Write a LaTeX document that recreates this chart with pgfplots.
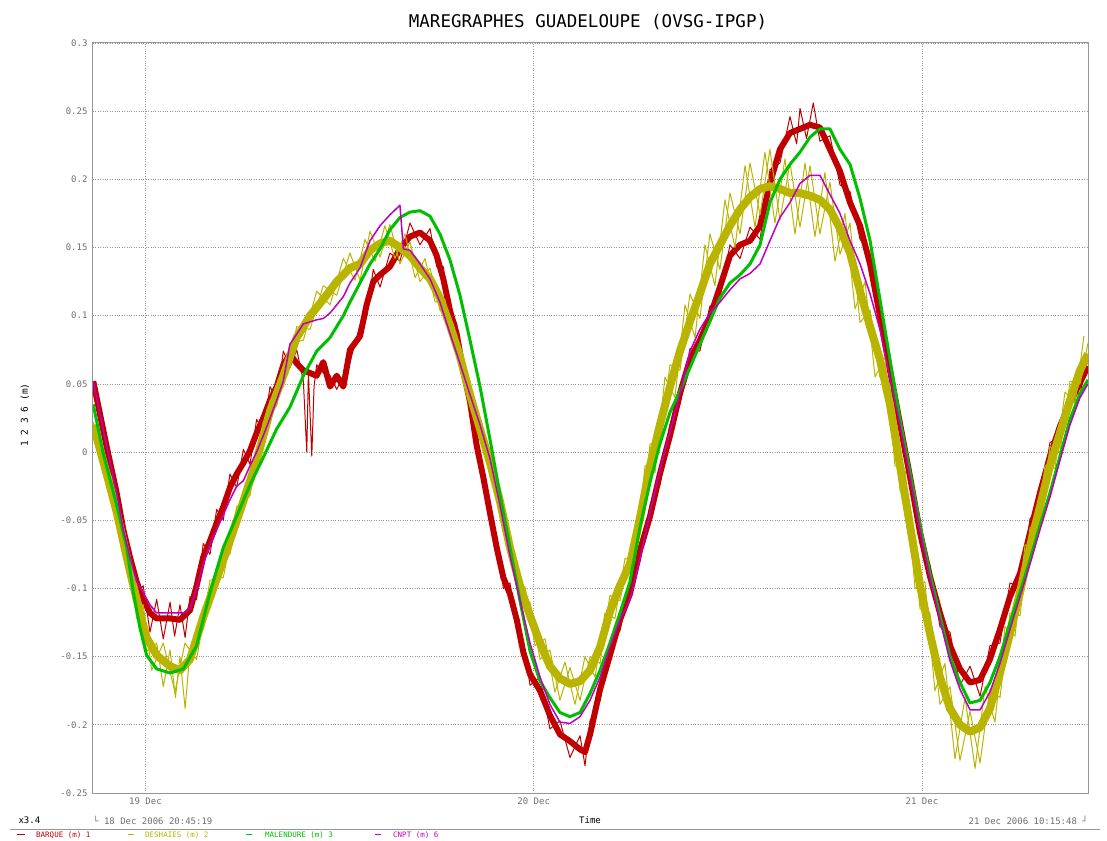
\documentclass[border=0pt]{standalone}
\usepackage{pgfplots}
\pgfplotsset{compat=1.18}
\usepackage{fontspec}
\setmainfont{DejaVu Sans Mono}
\definecolor{cred}{RGB}{192,0,0}
\definecolor{cyel}{RGB}{185,180,0}
\definecolor{cgrn}{RGB}{0,190,0}
\definecolor{cmag}{RGB}{190,0,190}
\definecolor{axgray}{RGB}{150,150,150}
\definecolor{txgray}{RGB}{110,110,110}
\begin{document}
\begin{tikzpicture}
\useasboundingbox (-93pt,-47pt) rectangle (1014pt,793pt);
\begin{axis}[
  at={(0pt,0pt)}, anchor=south west,
  scale only axis, width=995pt, height=750pt,
  xmin=-3.245, xmax=58.263, ymin=-0.25, ymax=0.3,
  xtick={0,24,48}, xticklabels={19 Dec,20 Dec,21 Dec},
  ytick={-0.25,-0.2,-0.15,-0.1,-0.05,0,0.05,0.1,0.15,0.2,0.25,0.3},
  yticklabels={-0.25,-0.2,-0.15,-0.1,-0.05,0,0.05,0.1,0.15,0.2,0.25,0.3},
  major tick length=0pt,
  grid=major,
  grid style={dotted, axgray, line width=0.8pt},
  axis line style={axgray, line width=1pt},
  ticklabel style={font=\fontsize{9}{10}\selectfont, text=txgray},
  yticklabel style={xshift=-2pt},
  xticklabel style={yshift=-1pt},
  /pgf/number format/assume math mode=true,
  line join=round,
]
% BARQUE (1) - core band
\addplot[cred, line width=6pt] coordinates {
(-3.23,0.052) (-2.40,0.004) (-1.78,-0.030) (-1.37,-0.057) (-0.96,-0.077) (-0.55,-0.095)
(-0.14,-0.108) (0.28,-0.118) (0.69,-0.122) (1.52,-0.122) (2.13,-0.123) (2.75,-0.116)
(3.16,-0.098) (3.57,-0.077) (3.99,-0.065) (4.40,-0.052) (4.81,-0.040) (5.22,-0.026)
(5.64,-0.016) (6.05,-0.008) (6.46,0.001) (6.87,0.014) (7.28,0.025) (7.70,0.038)
(8.11,0.048) (8.52,0.064) (8.93,0.072) (9.35,0.065) (9.76,0.060) (10.58,0.056)
(10.99,0.066) (11.41,0.048) (11.82,0.056) (12.23,0.048) (12.64,0.075) (13.26,0.085)
(13.67,0.108) (14.08,0.125) (14.50,0.130) (15.11,0.136) (15.73,0.149) (16.35,0.158)
(16.97,0.161) (17.59,0.155) (18.00,0.144) (18.41,0.127) (18.82,0.104) (19.23,0.087)
(19.65,0.059) (20.06,0.037) (20.47,0.005) (20.89,-0.019) (21.30,-0.045) (21.71,-0.070)
(22.12,-0.092) (22.53,-0.104) (22.95,-0.123) (23.36,-0.147) (23.77,-0.163) (24.39,-0.175)
(25.00,-0.193) (25.62,-0.207) (26.24,-0.212) (26.86,-0.218) (27.17,-0.220) (27.48,-0.207)
(28.10,-0.174) (28.71,-0.149) (29.33,-0.123) (29.95,-0.104) (30.57,-0.072) (31.19,-0.047)
(31.80,-0.016) (32.42,0.012) (33.04,0.043) (33.66,0.068) (34.27,0.082) (34.89,0.099)
(35.51,0.121) (36.13,0.144) (36.75,0.152) (37.37,0.155) (37.99,0.166) (38.60,0.197)
(39.22,0.222) (39.84,0.234) (40.46,0.237) (41.08,0.240) (41.69,0.238) (42.31,0.222)
(42.93,0.206) (43.55,0.183) (44.17,0.166) (44.79,0.138) (45.40,0.100) (46.02,0.060)
(46.64,0.021) (47.26,-0.018) (47.88,-0.059) (48.49,-0.091) (49.11,-0.118) (49.73,-0.142)
(50.35,-0.159) (50.97,-0.169) (51.59,-0.167) (52.20,-0.152) (52.82,-0.130) (53.44,-0.106)
(54.06,-0.089) (54.68,-0.059) (55.29,-0.030) (55.91,-0.003) (56.53,0.019) (57.15,0.036)
(57.77,0.051) (58.26,0.063)
};
% BARQUE (1) - spikes
\addplot[cred, line width=1pt] coordinates {
(-3.23,0.052) (-2.81,0.032) (-2.40,-0.002) (-1.78,-0.024) (-1.37,-0.064) (-0.96,-0.070)
(-0.55,-0.104) (-0.14,-0.098) (0.28,-0.132) (0.69,-0.108) (1.10,-0.137) (1.52,-0.110)
(1.80,-0.135) (2.13,-0.112) (2.45,-0.136) (2.75,-0.106) (3.16,-0.108) (3.57,-0.067)
(3.99,-0.075) (4.40,-0.042) (4.81,-0.050) (5.22,-0.016) (5.64,-0.026) (6.05,0.002)
(6.46,-0.009) (6.87,0.024) (7.28,0.015) (7.70,0.048) (8.11,0.038) (8.52,0.074)
(8.93,0.062) (9.35,0.075) (9.76,0.052) (9.97,0.000) (10.07,0.058) (10.28,-0.003)
(10.42,0.048) (10.58,0.064) (10.99,0.058) (11.41,0.056) (11.82,0.046) (12.23,0.056)
(12.64,0.066) (13.26,0.093) (13.67,0.100) (14.08,0.134) (14.50,0.121) (15.11,0.146)
(15.73,0.140) (16.35,0.168) (16.97,0.152) (17.59,0.164) (18.00,0.136) (18.41,0.136)
(18.82,0.096) (19.23,0.095) (19.65,0.051) (20.06,0.045) (20.47,-0.003) (20.89,-0.011)
(21.30,-0.053) (21.71,-0.062) (22.12,-0.100) (22.53,-0.096) (22.95,-0.131) (23.36,-0.139)
(23.77,-0.171) (24.39,-0.165) (25.00,-0.203) (25.62,-0.197) (26.24,-0.224) (26.86,-0.208)
(27.17,-0.230) (27.48,-0.197) (28.10,-0.182) (28.71,-0.141) (29.33,-0.131) (29.95,-0.096)
(30.57,-0.080) (31.19,-0.039) (31.80,-0.024) (32.42,0.020) (33.04,0.035) (33.66,0.076)
(34.27,0.074) (34.89,0.107) (35.51,0.113) (36.13,0.152) (36.75,0.142) (37.37,0.165)
(37.99,0.156) (38.60,0.207) (39.22,0.212) (39.84,0.246) (40.25,0.226) (40.46,0.252)
(40.86,0.230) (41.28,0.256) (41.69,0.228) (42.31,0.232) (42.93,0.196) (43.55,0.191)
(44.17,0.156) (44.79,0.146) (45.40,0.092) (46.02,0.068) (46.64,0.013) (47.26,-0.010)
(47.88,-0.067) (48.49,-0.083) (49.11,-0.128) (49.73,-0.132) (50.35,-0.171) (50.97,-0.157)
(51.59,-0.179) (52.20,-0.142) (52.82,-0.140) (53.44,-0.096) (54.06,-0.099) (54.68,-0.049)
(55.29,-0.040) (55.91,0.007) (56.53,0.011) (57.15,0.044) (57.77,0.043) (58.26,0.068)
};
% DESHAIES (2) - core band
\addplot[cyel, line width=8pt] coordinates {
(-3.23,0.020) (-2.40,-0.016) (-1.78,-0.044) (-1.16,-0.077) (-0.75,-0.098) (-0.34,-0.118)
(0.07,-0.136) (0.69,-0.149) (1.52,-0.157) (2.13,-0.160) (2.75,-0.152) (3.57,-0.121)
(4.40,-0.093) (5.22,-0.065) (6.05,-0.036) (6.87,-0.006) (7.70,0.030) (8.52,0.056)
(9.35,0.084) (10.17,0.100) (10.99,0.112) (11.82,0.125) (12.64,0.135) (13.26,0.138)
(13.88,0.148) (14.50,0.153) (15.11,0.155) (15.73,0.150) (16.35,0.144) (16.97,0.135)
(17.59,0.127) (18.20,0.113) (18.82,0.093) (19.44,0.070) (20.06,0.042) (20.68,0.017)
(21.30,-0.008) (21.91,-0.036) (22.53,-0.070) (23.15,-0.098) (23.77,-0.120) (24.39,-0.140)
(25.00,-0.157) (25.62,-0.166) (26.24,-0.170) (26.86,-0.168) (27.48,-0.160) (28.10,-0.143)
(28.71,-0.117) (29.33,-0.098) (29.95,-0.082) (30.57,-0.048) (31.19,-0.010) (31.80,0.020)
(32.42,0.048) (33.04,0.074) (33.66,0.096) (34.27,0.116) (34.89,0.138) (35.51,0.152)
(36.13,0.166) (36.75,0.178) (37.37,0.187) (37.99,0.193) (38.60,0.195) (39.22,0.193)
(39.84,0.190) (40.46,0.190) (41.08,0.188) (41.69,0.185) (42.31,0.178) (42.93,0.164)
(43.55,0.146) (44.17,0.118) (44.79,0.092) (45.40,0.068) (46.02,0.035) (46.64,-0.010)
(47.26,-0.054) (47.88,-0.098) (48.49,-0.133) (49.11,-0.165) (49.73,-0.188) (50.35,-0.200)
(50.97,-0.205) (51.59,-0.202) (52.20,-0.188) (52.82,-0.162) (53.44,-0.133) (54.06,-0.103)
(54.68,-0.069) (55.29,-0.040) (55.91,-0.010) (56.53,0.014) (57.15,0.038) (57.77,0.060)
(58.26,0.072)
};
% DESHAIES (2) - spikes
\addplot[cyel, line width=1pt] coordinates {
(-3.23,0.022) (-2.61,-0.014) (-2.40,-0.008) (-1.78,-0.050) (-1.16,-0.068) (-0.75,-0.108)
(-0.34,-0.110) (0.07,-0.146) (0.69,-0.140) (1.10,-0.172) (1.52,-0.145) (1.85,-0.180)
(2.13,-0.150) (2.45,-0.188) (2.75,-0.146) (3.57,-0.130) (4.40,-0.084) (5.22,-0.075)
(6.05,-0.028) (6.87,-0.014) (7.70,0.038) (8.52,0.048) (9.35,0.092) (10.17,0.090)
(10.99,0.122) (11.82,0.115) (12.64,0.146) (13.26,0.126) (13.88,0.162) (14.50,0.143)
(15.11,0.167) (15.73,0.138) (16.35,0.154) (16.97,0.125) (17.59,0.135) (18.20,0.104)
(18.82,0.100) (19.44,0.062) (20.06,0.049) (20.68,0.009) (21.30,-0.001) (21.91,-0.044)
(22.53,-0.062) (23.15,-0.108) (23.77,-0.110) (24.39,-0.152) (25.00,-0.145) (25.62,-0.182)
(26.24,-0.158) (26.86,-0.182) (27.48,-0.150) (28.10,-0.155) (28.71,-0.105) (29.33,-0.109)
(29.95,-0.072) (30.57,-0.060) (31.19,0.006) (31.80,0.006) (32.42,0.064) (33.04,0.060)
(33.66,0.116) (34.27,0.098) (34.89,0.160) (35.51,0.134) (36.13,0.190) (36.75,0.160)
(37.37,0.212) (37.99,0.174) (38.60,0.222) (39.22,0.170) (39.84,0.212) (40.46,0.165)
(41.08,0.210) (41.69,0.160) (42.31,0.198) (42.93,0.145) (43.55,0.168) (44.17,0.095)
(44.79,0.104) (45.40,0.055) (46.02,0.050) (46.64,-0.028) (47.26,-0.040) (47.88,-0.115)
(48.49,-0.118) (49.11,-0.185) (49.73,-0.172) (50.35,-0.226) (50.97,-0.190) (51.59,-0.228)
(52.20,-0.174) (52.82,-0.180) (53.44,-0.118) (54.06,-0.120) (54.68,-0.055) (55.29,-0.056)
(55.91,0.004) (56.53,0.000) (57.15,0.052) (57.77,0.050) (58.26,0.080)
};
% DESHAIES (2) - spikes, second pass
\addplot[cyel, line width=1pt] coordinates {
(-2.90,-0.004) (-2.10,-0.018) (-1.47,-0.072) (-0.95,-0.076) (-0.55,-0.122) (-0.14,-0.112)
(0.38,-0.160) (1.10,-0.140) (1.82,-0.176) (2.44,-0.140) (3.16,-0.152) (3.99,-0.094)
(4.81,-0.092) (5.64,-0.040) (6.46,-0.032) (7.28,0.022) (8.11,0.034) (8.93,0.080)
(9.76,0.082) (10.58,0.118) (11.41,0.108) (12.23,0.142) (12.95,0.126) (13.57,0.156)
(14.19,0.140) (14.80,0.166) (15.42,0.142) (16.04,0.160) (16.66,0.128) (17.28,0.142)
(17.90,0.110) (18.51,0.112) (19.13,0.074) (19.75,0.064) (20.37,0.022) (20.99,0.013)
(21.60,-0.030) (22.22,-0.045) (22.84,-0.094) (23.46,-0.099) (24.08,-0.142) (24.70,-0.137)
(25.31,-0.176) (25.93,-0.154) (26.55,-0.185) (27.17,-0.150) (27.79,-0.165) (28.40,-0.118)
(29.02,-0.122) (29.64,-0.078) (30.26,-0.080) (30.88,-0.010) (31.50,-0.015) (32.11,0.055)
(32.73,0.040) (33.35,0.108) (33.97,0.084) (34.58,0.152) (35.20,0.122) (35.82,0.185)
(36.44,0.150) (37.06,0.210) (37.68,0.165) (38.29,0.220) (38.91,0.168) (39.53,0.215)
(40.15,0.160) (40.77,0.212) (41.38,0.158) (42.00,0.205) (42.62,0.140) (43.24,0.175)
(43.86,0.105) (44.48,0.125) (45.10,0.055) (45.71,0.070) (46.33,-0.010) (46.95,-0.012)
(47.57,-0.100) (48.18,-0.095) (48.80,-0.175) (49.42,-0.155) (50.04,-0.225) (50.66,-0.180)
(51.28,-0.232) (51.90,-0.172) (52.51,-0.198) (53.13,-0.128) (53.75,-0.135) (54.37,-0.068)
(54.99,-0.070) (55.60,-0.010) (56.22,-0.012) (56.84,0.044) (57.46,0.036) (58.01,0.085)
};
% MALENDURE (3)
\addplot[cgrn, line width=3pt] coordinates {
(-3.23,0.035) (-2.61,-0.001) (-1.78,-0.039) (-1.16,-0.070) (-0.75,-0.103) (-0.34,-0.129)
(0.07,-0.149) (0.69,-0.159) (1.52,-0.162) (2.34,-0.159) (3.16,-0.142) (3.99,-0.103)
(4.81,-0.070) (5.64,-0.047) (6.46,-0.024) (7.28,-0.004) (8.11,0.017) (8.93,0.033)
(9.76,0.056) (10.58,0.074) (11.41,0.084) (12.23,0.100) (12.64,0.110) (13.26,0.124)
(13.88,0.138) (14.50,0.149) (15.11,0.163) (15.73,0.172) (16.35,0.176) (16.97,0.177)
(17.59,0.173) (18.20,0.160) (18.82,0.141) (19.44,0.115) (20.06,0.082) (20.68,0.048)
(21.30,0.009) (21.91,-0.031) (22.53,-0.070) (23.15,-0.109) (23.77,-0.146) (24.39,-0.168)
(25.00,-0.180) (25.62,-0.191) (26.24,-0.194) (26.86,-0.191) (27.48,-0.177) (28.10,-0.160)
(28.71,-0.140) (29.33,-0.118) (29.95,-0.095) (30.57,-0.055) (31.19,-0.022) (31.80,0.006)
(32.42,0.029) (33.04,0.045) (33.66,0.062) (34.27,0.079) (34.89,0.096) (35.51,0.113)
(36.13,0.124) (36.75,0.130) (37.37,0.138) (37.99,0.152) (38.60,0.183) (39.22,0.200)
(39.84,0.211) (40.46,0.220) (41.08,0.231) (41.69,0.237) (42.31,0.237) (42.93,0.222)
(43.55,0.211) (44.17,0.186) (44.79,0.155) (45.40,0.112) (46.02,0.068) (46.64,0.024)
(47.26,-0.015) (47.88,-0.054) (48.49,-0.089) (49.11,-0.120) (49.73,-0.150) (50.35,-0.169)
(50.97,-0.184) (51.59,-0.182) (52.20,-0.169) (52.82,-0.150) (53.44,-0.125) (54.06,-0.103)
(54.68,-0.079) (55.29,-0.054) (55.91,-0.030) (56.53,-0.003) (57.15,0.024) (57.77,0.043)
(58.26,0.053)
};
% CNPT (6)
\addplot[cmag, line width=1.5pt] coordinates {
(-3.23,0.052) (-2.40,0.004) (-1.78,-0.030) (-1.37,-0.057) (-0.96,-0.077) (-0.55,-0.095)
(-0.14,-0.103) (0.28,-0.112) (0.69,-0.118) (1.52,-0.118) (2.34,-0.118) (2.75,-0.115)
(3.16,-0.100) (3.57,-0.082) (3.99,-0.068) (4.40,-0.057) (4.81,-0.046) (5.22,-0.035)
(5.64,-0.025) (6.05,-0.021) (6.46,-0.010) (6.87,0.000) (7.28,0.012) (7.70,0.025)
(8.11,0.038) (8.52,0.052) (8.93,0.079) (9.76,0.094) (10.58,0.097) (10.99,0.098)
(11.41,0.102) (11.82,0.108) (12.23,0.114) (12.64,0.124) (13.26,0.135) (13.88,0.155)
(14.50,0.166) (15.11,0.174) (15.73,0.181) (15.94,0.149) (16.35,0.148) (16.97,0.138)
(17.59,0.127) (18.20,0.110) (18.82,0.087) (19.44,0.065) (20.06,0.042) (20.68,0.020)
(21.30,-0.005) (21.91,-0.039) (22.53,-0.076) (23.15,-0.109) (23.77,-0.140) (24.39,-0.165)
(25.00,-0.185) (25.62,-0.198) (26.24,-0.199) (26.86,-0.194) (27.48,-0.182) (28.10,-0.165)
(28.71,-0.143) (29.33,-0.123) (29.95,-0.108) (30.57,-0.078) (31.19,-0.044) (31.80,-0.013)
(32.42,0.015) (33.04,0.043) (33.66,0.074) (34.27,0.090) (34.89,0.102) (35.51,0.110)
(36.13,0.119) (36.75,0.127) (37.37,0.131) (37.99,0.138) (38.60,0.155) (39.22,0.172)
(39.84,0.183) (40.46,0.197) (41.08,0.203) (41.69,0.203) (42.31,0.189) (42.93,0.175)
(43.55,0.155) (44.17,0.138) (44.79,0.116) (45.40,0.090) (46.02,0.054) (46.64,0.020)
(47.26,-0.018) (47.88,-0.057) (48.49,-0.092) (49.11,-0.123) (49.73,-0.153) (50.35,-0.174)
(50.97,-0.189) (51.59,-0.189) (52.20,-0.176) (52.82,-0.155) (53.44,-0.130) (54.06,-0.106)
(54.68,-0.082) (55.29,-0.057) (55.91,-0.033) (56.53,-0.006) (57.15,0.020) (57.77,0.040)
(58.26,0.050)
};
\end{axis}
\node[font=\fontsize{17.5}{18}\selectfont, anchor=center] at (495pt,771pt) {MAREGRAPHES GUADELOUPE (OVSG-IPGP)};
\node[font=\fontsize{9.5}{10}\selectfont, rotate=90, anchor=center] at (-68pt,378pt) {1 2 3 6 (m)};
\node[font=\fontsize{9}{10}\selectfont, anchor=west] at (-78pt,-27pt) {x3.4};
\node[font=\fontsize{9}{10}\selectfont, text=txgray, anchor=west, inner sep=0pt] at (0pt,-27pt) {└ 18 Dec 2006 20:45:19};
\node[font=\fontsize{9}{10}\selectfont, anchor=center] at (497pt,-27pt) {Time};
\node[font=\fontsize{9}{10}\selectfont, text=txgray, anchor=east, inner sep=0pt] at (995pt,-27pt) {21 Dec 2006 10:15:48 ┘};
\draw[axgray, line width=1pt] (-83pt,-36pt) -- (1007pt,-36pt);
\draw[cred, line width=1pt] (-76pt,-41.5pt) -- (-68pt,-41.5pt);
\node[font=\fontsize{7.5}{8}\selectfont, text=cred, anchor=base west, inner sep=0pt] at (-57pt,-44.3pt) {BARQUE (m) 1};
\draw[cyel, line width=1pt] (35pt,-41.5pt) -- (41pt,-41.5pt);
\node[font=\fontsize{7.5}{8}\selectfont, text=cyel, anchor=base west, inner sep=0pt] at (52pt,-44.3pt) {DESHAIES (m) 2};
\draw[cgrn, line width=1pt] (153pt,-41.5pt) -- (159pt,-41.5pt);
\node[font=\fontsize{7.5}{8}\selectfont, text=cgrn, anchor=base west, inner sep=0pt] at (172pt,-44.3pt) {MALENDURE (m) 3};
\draw[cmag, line width=1pt] (282pt,-41.5pt) -- (288pt,-41.5pt);
\node[font=\fontsize{7.5}{8}\selectfont, text=cmag, anchor=base west, inner sep=0pt] at (300pt,-44.3pt) {CNPT (m) 6};
\end{tikzpicture}
\end{document}
